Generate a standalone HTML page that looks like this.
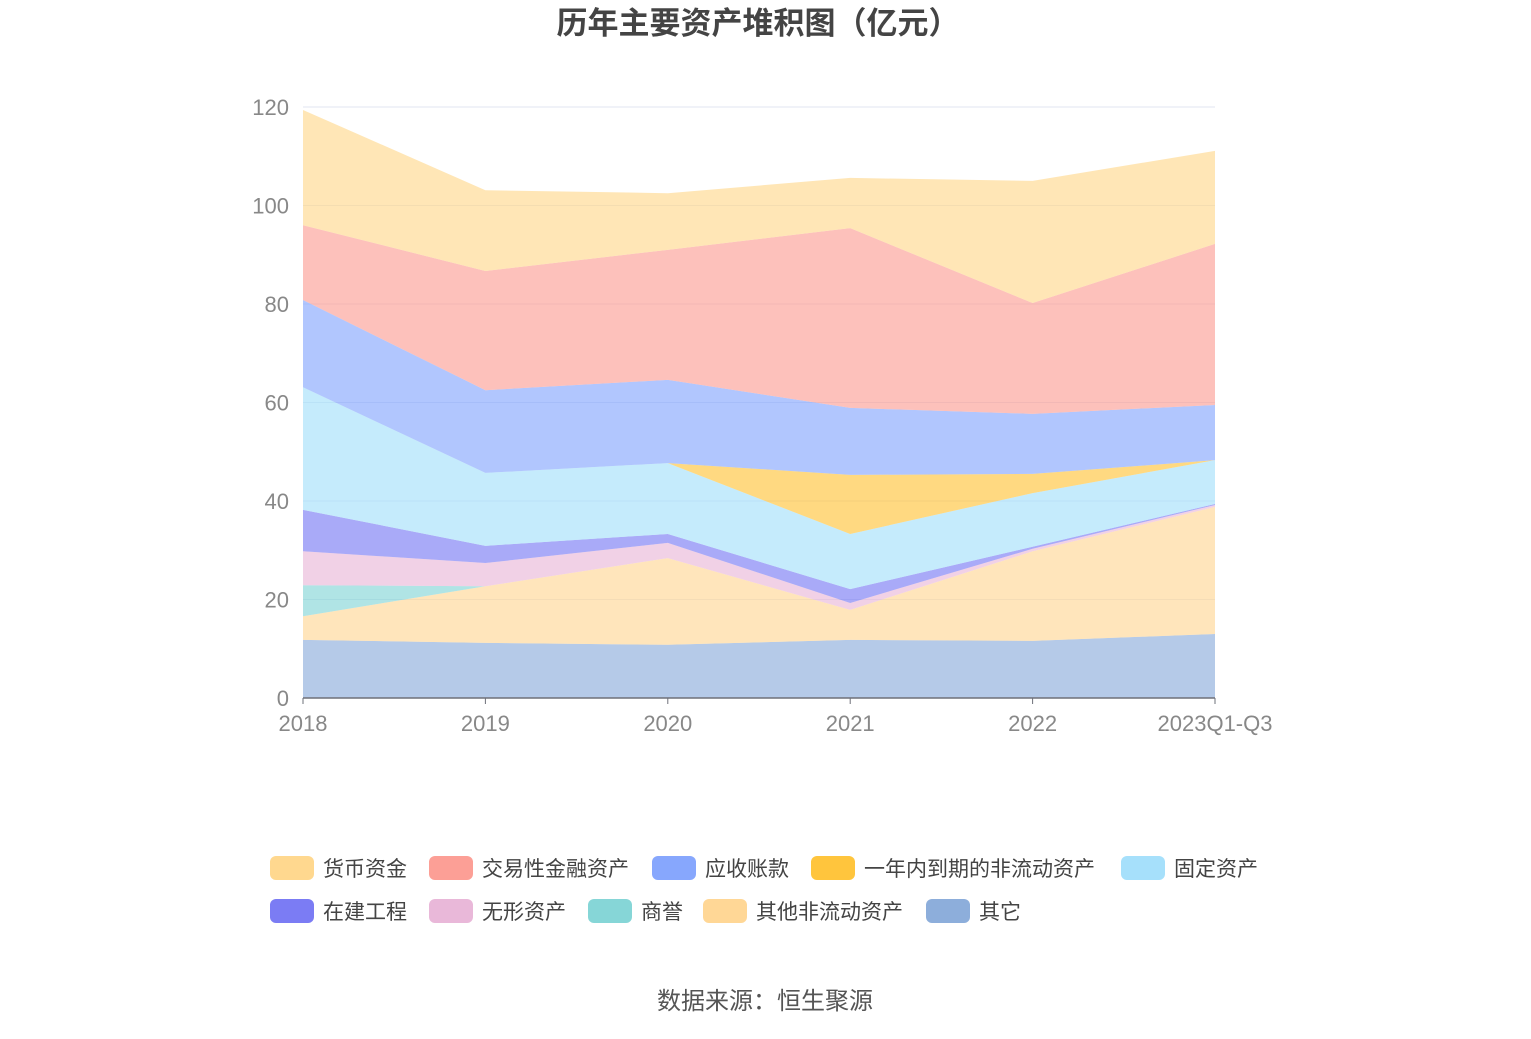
<!DOCTYPE html>
<html><head><meta charset="utf-8"><style>
body{margin:0;width:1531px;height:1034px;background:#fff;font-family:"Liberation Sans","Noto Sans CJK SC",sans-serif;overflow:hidden}
svg text{font-family:"Liberation Sans","Noto Sans CJK SC",sans-serif}
</style></head><body>
<svg id="chart" width="1531" height="1034">
<text x="758" y="34" text-anchor="middle" font-size="31" font-weight="bold" fill="#444">历年主要资产堆积图（亿元）</text>
<g id="grid"></g><g id="areas"></g><g id="axes"></g><g id="legend"></g>
<text x="765" y="1009" text-anchor="middle" font-size="24" fill="#555">数据来源：恒生聚源</text>
</svg>
<script>
const categories=["2018","2019","2020","2021","2022","2023Q1-Q3"];
const seriesNames=["其它","其他非流动资产","商誉","无形资产","在建工程","固定资产","一年内到期的非流动资产","应收账款","交易性金融资产","货币资金"];
const sOther=[11.8,11.2,10.8,11.8,11.6,13.0];
const sOtherNonCurrent=[4.8,11.5,17.6,6.1,18.2,25.8];
const sGoodwill=[6.3,0,0,0,0,0];
const sIntangible=[6.9,4.7,3.1,1.4,0.5,0.4];
const sConstruction=[8.4,3.5,1.8,2.8,0.4,0.2];
const sFixed=[24.9,14.8,14.4,11.2,10.9,8.9];
const sDueWithinYear=[0,0,0,12,3.9,0];
const sReceivable=[17.7,16.8,16.9,13.6,12.2,11.2];
const sTrading=[15.2,24.2,26.4,36.5,22.5,32.7];
const sCash=[23.4,16.4,11.5,10.2,24.8,18.9];
const yTicks=[0,20,40,60,80,100,120];
const seriesData=[sOther,sOtherNonCurrent,sGoodwill,sIntangible,sConstruction,sFixed,sDueWithinYear,sReceivable,sTrading,sCash];
const colors=["#8daedb","#ffd796","#86d6d7","#e9b8d9","#7b7cf4","#a6e0fb","#ffc53d","#87a7fd","#fc9f96","#ffd88f"];
const NS="http://www.w3.org/2000/svg";
const X0=303,X1=1215,Y0=698,Y120=107;
const xs=i=>X0+(X1-X0)*i/(categories.length-1);
const ys=v=>Y0-(Y0-Y120)*v/120;
function mk(t,a,p){const e=document.createElementNS(NS,t);for(const k in a)e.setAttribute(k,a[k]);p.appendChild(e);return e;}
const grid=document.getElementById('grid'),axes=document.getElementById('axes'),areas=document.getElementById('areas'),legend=document.getElementById('legend');
yTicks.forEach(v=>{
 if(v>0){const l=mk('line',{x1:X0,x2:X1,y1:ys(v),y2:ys(v),stroke:'#e0e6f1','stroke-width':1},grid);
 
 }
 const t=mk('text',{x:289,y:ys(v)+8,'text-anchor':'end','font-size':22,fill:'#888'},axes);t.textContent=v;
 
 
});
const al=mk('line',{x1:X0,x2:X1,y1:Y0,y2:Y0,stroke:'#6e7079','stroke-width':1.5},axes);


categories.forEach((c,i)=>{
 mk('line',{x1:xs(i),x2:xs(i),y1:Y0,y2:Y0+6,stroke:'#6e7079'},axes);
 const t=mk('text',{x:xs(i),y:731,'text-anchor':'middle','font-size':22,fill:'#888'},axes);t.textContent=c;
 
 
});
let base=categories.map(()=>0);
seriesData.forEach((s,k)=>{
 const top=base.map((b,i)=>b+s[i]);
 let d='M'+top.map((v,i)=>xs(i)+','+ys(v)).join('L');
 for(let i=categories.length-1;i>=0;i--)d+='L'+xs(i)+','+ys(base[i]);
 const p=mk('path',{d:d+'Z',fill:colors[k],'fill-opacity':0.65,stroke:'none'},areas);
 
 
 base=top;
});
const order=[9,8,7,6,5,4,3,2,1,0];
const pos=[[270,868],[429,868],[652,868],[811,868],[1121,868],[270,911],[429,911],[588,911],[703,911],[926,911]];
order.forEach((k,j)=>{
 const [x,y]=pos[j];
 const g=mk('g',{},legend);
 
 
 mk('rect',{x:x,y:y-12,width:44,height:24,rx:6,fill:colors[k]},g);
 const t=mk('text',{x:x+53,y:y+8,'font-size':21,fill:'#444'},g);t.textContent=seriesNames[k];
});
</script>
</body></html>
